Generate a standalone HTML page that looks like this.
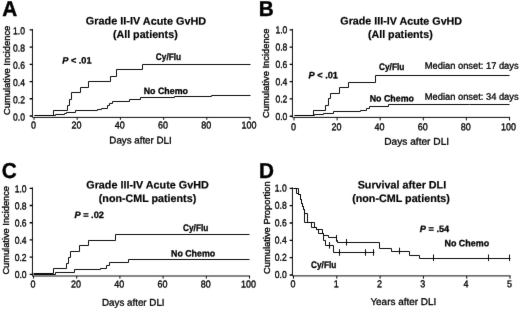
<!DOCTYPE html>
<html lang="en">
<head>
<meta charset="utf-8">
<title>Figure</title>
<style>
html,body{margin:0;padding:0;background:#fff;}
body{width:520px;height:309px;overflow:hidden;}
svg{display:block;font-family:"Liberation Sans", sans-serif;}
text{fill:#000;stroke:#000;stroke-width:0.2;stroke-linejoin:round;}
.pl{font-size:21.6px;font-weight:bold;stroke-width:0.4;}
.tt{font-size:10.9px;font-weight:bold;}
.tk{font-size:10px;stroke-width:0.35;}
.tky{font-size:10px;stroke-width:0.35;}
.al{font-size:9.4px;stroke-width:0.35;}
.xl{font-size:9.8px;stroke-width:0.3;}
.lb{font-size:9.2px;font-weight:bold;stroke-width:0.3;}
.lbc{font-size:9.5px;font-weight:bold;stroke-width:0.3;}
.md{font-size:9.3px;stroke-width:0.3;}
.ax{stroke:#000;stroke-width:0.95;fill:none;}
.cv{stroke:#000;stroke-width:0.95;fill:none;stroke-linejoin:miter;}
</style>
</head>
<body>
<svg width="520" height="309" viewBox="0 0 520 309">
<defs><filter id="soft" x="0" y="0" width="520" height="309" filterUnits="userSpaceOnUse"><feConvolveMatrix order="3" kernelMatrix="0.006 0.054 0.006 0.054 0.76 0.054 0.006 0.054 0.006" divisor="1" edgeMode="duplicate" preserveAlpha="false"/></filter></defs>
<rect width="520" height="309" fill="#fff"/>
<g filter="url(#soft)">
<g id="panel-A">
<text transform="translate(2.3 16.1) scale(0.96 1) rotate(0.03)" class="pl">A</text>
<path class="ax" style="stroke-width:1.35" d="M29.65 116.00H32.45M29.65 98.78H32.45M29.65 81.56H32.45M29.65 64.34H32.45M29.65 47.12H32.45M29.65 29.90H32.45"/>
<path class="ax" d="M32.45 29.00V117.70M33.20 117.40H250.60M34.00 117.40V119.80M77.20 117.40V119.80M120.40 117.40V119.80M163.60 117.40V119.80M206.80 117.40V119.80M250.00 117.40V119.80"/>
<text transform="translate(25.0 120.40) scale(0.86 1) rotate(0.03)" class="tky" text-anchor="end">0.0</text>
<text transform="translate(25.0 103.16) scale(0.86 1) rotate(0.03)" class="tky" text-anchor="end">0.2</text>
<text transform="translate(25.0 85.92) scale(0.86 1) rotate(0.03)" class="tky" text-anchor="end">0.4</text>
<text transform="translate(25.0 68.68) scale(0.86 1) rotate(0.03)" class="tky" text-anchor="end">0.6</text>
<text transform="translate(25.0 51.44) scale(0.86 1) rotate(0.03)" class="tky" text-anchor="end">0.8</text>
<text transform="translate(25.0 34.20) scale(0.86 1) rotate(0.03)" class="tky" text-anchor="end">1.0</text>
<text transform="translate(33.40 128.5) scale(0.9 1) rotate(0.03)" class="tk" text-anchor="middle">0</text>
<text transform="translate(76.60 128.5) scale(0.9 1) rotate(0.03)" class="tk" text-anchor="middle">20</text>
<text transform="translate(119.80 128.5) scale(0.9 1) rotate(0.03)" class="tk" text-anchor="middle">40</text>
<text transform="translate(163.00 128.5) scale(0.9 1) rotate(0.03)" class="tk" text-anchor="middle">60</text>
<text transform="translate(206.20 128.5) scale(0.9 1) rotate(0.03)" class="tk" text-anchor="middle">80</text>
<text transform="translate(249.00 128.5) scale(0.9 1) rotate(0.03)" class="tk" text-anchor="middle">100</text>
<text transform="translate(85.80 24.6) rotate(0.03)" class="tt" textLength="120.4" lengthAdjust="spacingAndGlyphs">Grade II-IV Acute GvHD</text>
<text transform="translate(112.90 37.9) rotate(0.03)" class="tt" textLength="64.8" lengthAdjust="spacingAndGlyphs">(All patients)</text>
<text transform="translate(9.9 114.90) rotate(-90)" class="al" textLength="89.2" lengthAdjust="spacingAndGlyphs">Cumulative Incidence</text>
<text transform="translate(109.35 143.6) rotate(0.03)" class="xl" textLength="62.3" lengthAdjust="spacingAndGlyphs">Days after DLI</text>
<path class="cv" d="M34.5 115.5H53.5V110.5H67.5V105.5H69.5V99.5H71.5V92.5H80.5V87.5H88.5V81.5H110.5V76.5H116.5V69.5H142.5V64.5H250.5V64.5"/>
<path class="cv" d="M34.5 115.5H55.5V114.5H64.5V113.5H66.5V112.5H75.5V110.5H97.5V109.5H101.5V108.5H107.5V105.5H109.5V103.5H112.5V101.5H129.5V99.5H140.5V97.5H174.5V96.5H211.5V95.5H250.5V95.5"/>
<text transform="translate(62.2 63.5) rotate(0.03)" class="lb"><tspan font-style="italic">P</tspan> &lt; .01</text>
<text transform="translate(155.8 60.2) rotate(0.03)" class="lbc" textLength="25.3" lengthAdjust="spacingAndGlyphs">Cy/Flu</text>
<text transform="translate(143.7 94) rotate(0.03)" class="lb" textLength="44.2" lengthAdjust="spacingAndGlyphs">No Chemo</text>
</g>
<g id="panel-B">
<text transform="translate(258.7 16.1) scale(0.96 1) rotate(0.03)" class="pl">B</text>
<path class="ax" style="stroke-width:1.35" d="M289.65 116.20H292.45M289.65 98.92H292.45M289.65 81.64H292.45M289.65 64.36H292.45M289.65 47.08H292.45M289.65 29.80H292.45"/>
<path class="ax" d="M292.45 28.90V117.70M293.20 117.40H510.10M294.00 117.40V120.40M337.10 117.40V120.40M380.20 117.40V120.40M423.30 117.40V120.40M466.40 117.40V120.40M509.50 117.40V120.40"/>
<text transform="translate(287.4 119.90) scale(0.86 1) rotate(0.03)" class="tky" text-anchor="end">0.0</text>
<text transform="translate(287.4 102.56) scale(0.86 1) rotate(0.03)" class="tky" text-anchor="end">0.2</text>
<text transform="translate(287.4 85.22) scale(0.86 1) rotate(0.03)" class="tky" text-anchor="end">0.4</text>
<text transform="translate(287.4 67.88) scale(0.86 1) rotate(0.03)" class="tky" text-anchor="end">0.6</text>
<text transform="translate(287.4 50.54) scale(0.86 1) rotate(0.03)" class="tky" text-anchor="end">0.8</text>
<text transform="translate(287.4 33.20) scale(0.86 1) rotate(0.03)" class="tky" text-anchor="end">1.0</text>
<text transform="translate(293.40 130.3) scale(0.9 1) rotate(0.03)" class="tk" text-anchor="middle">0</text>
<text transform="translate(336.50 130.3) scale(0.9 1) rotate(0.03)" class="tk" text-anchor="middle">20</text>
<text transform="translate(379.60 130.3) scale(0.9 1) rotate(0.03)" class="tk" text-anchor="middle">40</text>
<text transform="translate(422.70 130.3) scale(0.9 1) rotate(0.03)" class="tk" text-anchor="middle">60</text>
<text transform="translate(465.80 130.3) scale(0.9 1) rotate(0.03)" class="tk" text-anchor="middle">80</text>
<text transform="translate(508.50 130.3) scale(0.9 1) rotate(0.03)" class="tk" text-anchor="middle">100</text>
<text transform="translate(340.30 24.6) rotate(0.03)" class="tt" textLength="121.8" lengthAdjust="spacingAndGlyphs">Grade III-IV Acute GvHD</text>
<text transform="translate(367.90 37.9) rotate(0.03)" class="tt" textLength="64.8" lengthAdjust="spacingAndGlyphs">(All patients)</text>
<text transform="translate(268.9 117.90) rotate(-90)" class="al" textLength="89.4" lengthAdjust="spacingAndGlyphs">Cumulative Incidence</text>
<text transform="translate(384.30 144.8) rotate(0.03)" class="xl" textLength="64.8" lengthAdjust="spacingAndGlyphs">Days after DLI</text>
<path class="cv" d="M294.5 115.5H313.5V110.5H325.5V105.5H328.5V98.5H330.5V93.5H339.5V87.5H348.5V82.5H375.5V75.5H509.5V75.5"/>
<path class="cv" d="M294.5 115.5H314.5V114.5H323.5V113.5H333.5V111.5H360.5V110.5H366.5V108.5H369.5V106.5H388.5V104.5H469.5V104.5H509.5V104.5"/>
<text transform="translate(308.6 78.2) rotate(0.03)" class="lb"><tspan font-style="italic">P</tspan> &lt; .01</text>
<text transform="translate(379 69.5) rotate(0.03)" class="lbc" textLength="25.3" lengthAdjust="spacingAndGlyphs">Cy/Flu</text>
<text transform="translate(369.7 101.5) rotate(0.03)" class="lb" textLength="44.2" lengthAdjust="spacingAndGlyphs">No Chemo</text>
<text transform="translate(424.8 68.8) rotate(0.03)" class="md" textLength="93.8" lengthAdjust="spacingAndGlyphs">Median onset: 17 days</text>
<text transform="translate(424.8 99.8) rotate(0.03)" class="md" textLength="93.8" lengthAdjust="spacingAndGlyphs">Median onset: 34 days</text>
</g>
<g id="panel-C">
<text transform="translate(1.7 177.9) scale(0.96 1) rotate(0.03)" class="pl">C</text>
<path class="ax" style="stroke-width:1.35" d="M29.65 274.30H32.45M29.65 257.10H32.45M29.65 239.90H32.45M29.65 222.70H32.45M29.65 205.50H32.45M29.65 188.30H32.45"/>
<path class="ax" d="M32.45 187.40V276.30M32.70 276.00H250.10M33.50 276.00V278.60M76.70 276.00V278.60M119.90 276.00V278.60M163.10 276.00V278.60M206.30 276.00V278.60M249.50 276.00V278.60"/>
<text transform="translate(26.6 278.10) scale(0.86 1) rotate(0.03)" class="tky" text-anchor="end">0.0</text>
<text transform="translate(26.6 260.92) scale(0.86 1) rotate(0.03)" class="tky" text-anchor="end">0.2</text>
<text transform="translate(26.6 243.74) scale(0.86 1) rotate(0.03)" class="tky" text-anchor="end">0.4</text>
<text transform="translate(26.6 226.56) scale(0.86 1) rotate(0.03)" class="tky" text-anchor="end">0.6</text>
<text transform="translate(26.6 209.38) scale(0.86 1) rotate(0.03)" class="tky" text-anchor="end">0.8</text>
<text transform="translate(26.6 192.20) scale(0.86 1) rotate(0.03)" class="tky" text-anchor="end">1.0</text>
<text transform="translate(32.90 287.4) scale(0.9 1) rotate(0.03)" class="tk" text-anchor="middle">0</text>
<text transform="translate(76.10 287.4) scale(0.9 1) rotate(0.03)" class="tk" text-anchor="middle">20</text>
<text transform="translate(119.30 287.4) scale(0.9 1) rotate(0.03)" class="tk" text-anchor="middle">40</text>
<text transform="translate(162.50 287.4) scale(0.9 1) rotate(0.03)" class="tk" text-anchor="middle">60</text>
<text transform="translate(205.70 287.4) scale(0.9 1) rotate(0.03)" class="tk" text-anchor="middle">80</text>
<text transform="translate(248.50 287.4) scale(0.9 1) rotate(0.03)" class="tk" text-anchor="middle">100</text>
<text transform="translate(86.25 188.5) rotate(0.03)" class="tt" textLength="122.5" lengthAdjust="spacingAndGlyphs">Grade III-IV Acute GvHD</text>
<text transform="translate(98.80 201.9) rotate(0.03)" class="tt" textLength="97.4" lengthAdjust="spacingAndGlyphs">(non-CML patients)</text>
<text transform="translate(9.2 274.60) rotate(-90)" class="al" textLength="88.6" lengthAdjust="spacingAndGlyphs">Cumulative Incidence</text>
<text transform="translate(102.00 305.8) rotate(0.03)" class="xl" textLength="62.6" lengthAdjust="spacingAndGlyphs">Days after DLI</text>
<path class="cv" d="M33.5 273.5H53.5V268.5H66.5V263.5H68.5V257.5H70.5V251.5H79.5V245.5H88.5V240.5H115.5V234.5H249.5V234.5"/>
<path class="cv" d="M33.5 274.5H55.5V272.5H74.5V269.5H100.5V268.5H106.5V265.5H109.5V262.5H128.5V259.5H249.5V259.5"/>
<text transform="translate(74.5 218.1) rotate(0.03)" class="lb"><tspan font-style="italic">P</tspan> = .02</text>
<text transform="translate(183 230.5) rotate(0.03)" class="lbc" textLength="25.3" lengthAdjust="spacingAndGlyphs">Cy/Flu</text>
<text transform="translate(171 256.6) rotate(0.03)" class="lb" textLength="44.2" lengthAdjust="spacingAndGlyphs">No Chemo</text>
</g>
<g id="panel-D">
<text transform="translate(258.9 177.9) scale(0.96 1) rotate(0.03)" class="pl">D</text>
<path class="ax" style="stroke-width:1.35" d="M289.65 275.00H292.45M289.65 257.66H292.45M289.65 240.32H292.45M289.65 222.98H292.45M289.65 205.64H292.45M289.65 188.30H292.45"/>
<path class="ax" d="M292.45 187.40V276.20M292.70 275.90H510.60M293.50 275.90V278.70M336.80 275.90V278.70M380.10 275.90V278.70M423.40 275.90V278.70M466.70 275.90V278.70M510.00 275.90V278.70"/>
<text transform="translate(286.7 278.10) scale(0.86 1) rotate(0.03)" class="tky" text-anchor="end">0.0</text>
<text transform="translate(286.7 260.78) scale(0.86 1) rotate(0.03)" class="tky" text-anchor="end">0.2</text>
<text transform="translate(286.7 243.46) scale(0.86 1) rotate(0.03)" class="tky" text-anchor="end">0.4</text>
<text transform="translate(286.7 226.14) scale(0.86 1) rotate(0.03)" class="tky" text-anchor="end">0.6</text>
<text transform="translate(286.7 208.82) scale(0.86 1) rotate(0.03)" class="tky" text-anchor="end">0.8</text>
<text transform="translate(286.7 191.50) scale(0.86 1) rotate(0.03)" class="tky" text-anchor="end">1.0</text>
<text transform="translate(292.90 287.3) scale(0.9 1) rotate(0.03)" class="tk" text-anchor="middle">0</text>
<text transform="translate(336.20 287.3) scale(0.9 1) rotate(0.03)" class="tk" text-anchor="middle">1</text>
<text transform="translate(379.50 287.3) scale(0.9 1) rotate(0.03)" class="tk" text-anchor="middle">2</text>
<text transform="translate(422.80 287.3) scale(0.9 1) rotate(0.03)" class="tk" text-anchor="middle">3</text>
<text transform="translate(466.10 287.3) scale(0.9 1) rotate(0.03)" class="tk" text-anchor="middle">4</text>
<text transform="translate(509.40 287.3) scale(0.9 1) rotate(0.03)" class="tk" text-anchor="middle">5</text>
<text transform="translate(357.65 188.5) rotate(0.03)" class="tt" textLength="88.5" lengthAdjust="spacingAndGlyphs">Survival after DLI</text>
<text transform="translate(352.15 201.9) rotate(0.03)" class="tt" textLength="97.7" lengthAdjust="spacingAndGlyphs">(non-CML patients)</text>
<text transform="translate(269.9 274.05) rotate(-90)" class="al" textLength="92.7" lengthAdjust="spacingAndGlyphs">Cumulative Proportion</text>
<text transform="translate(370.40 305.0) rotate(0.03)" class="xl" textLength="65.8" lengthAdjust="spacingAndGlyphs">Years after DLI</text>
<path class="cv" d="M293.5 188.5H298.5V194.5H300.5V199.5H301.5V203.5H302.5V206.5H303.5V209.5H304.5V213.5H307.5V222.5H314.5V227.5H316.5V229.5H322.5V233.5H323.5V235.5H328.5V237.5H336.5V240.5H337.5V242.5H379.5V248.5H391.5V251.5H409.5V255.5H419.5V258.5H510.5V258.5"/>
<path class="cv" d="M293.5 188.5H296.5V193.5H298.5V194.5H300.5V199.5H301.5V203.5H302.5V206.5H303.5V209.5H304.5V213.5H304.5V222.5H311.5V227.5H316.5V229.5H318.5V233.5H323.5V235.5H323.5V240.5H325.5V245.5H333.5V252.5H374.5V252.5"/>
<path class="cv" d="M336.5 235.00V241.60M346.5 239.00V245.60M399.5 247.70V254.30M433.5 254.50V261.10M488.5 254.50V261.10M509.5 254.50V261.10M329.5 242.00V248.60M339.5 249.20V255.80M365.5 249.20V255.80M373.5 249.20V255.80"/>
<text transform="translate(419.8 232) rotate(0.03)" class="lb"><tspan font-style="italic">P</tspan> = .54</text>
<text transform="translate(311 268) rotate(0.03)" class="lbc" textLength="25.3" lengthAdjust="spacingAndGlyphs">Cy/Flu</text>
<text transform="translate(444.5 246.2) rotate(0.03)" class="lb" textLength="44.6" lengthAdjust="spacingAndGlyphs">No Chemo</text>
</g>
</g>
</svg>
</body>
</html>
